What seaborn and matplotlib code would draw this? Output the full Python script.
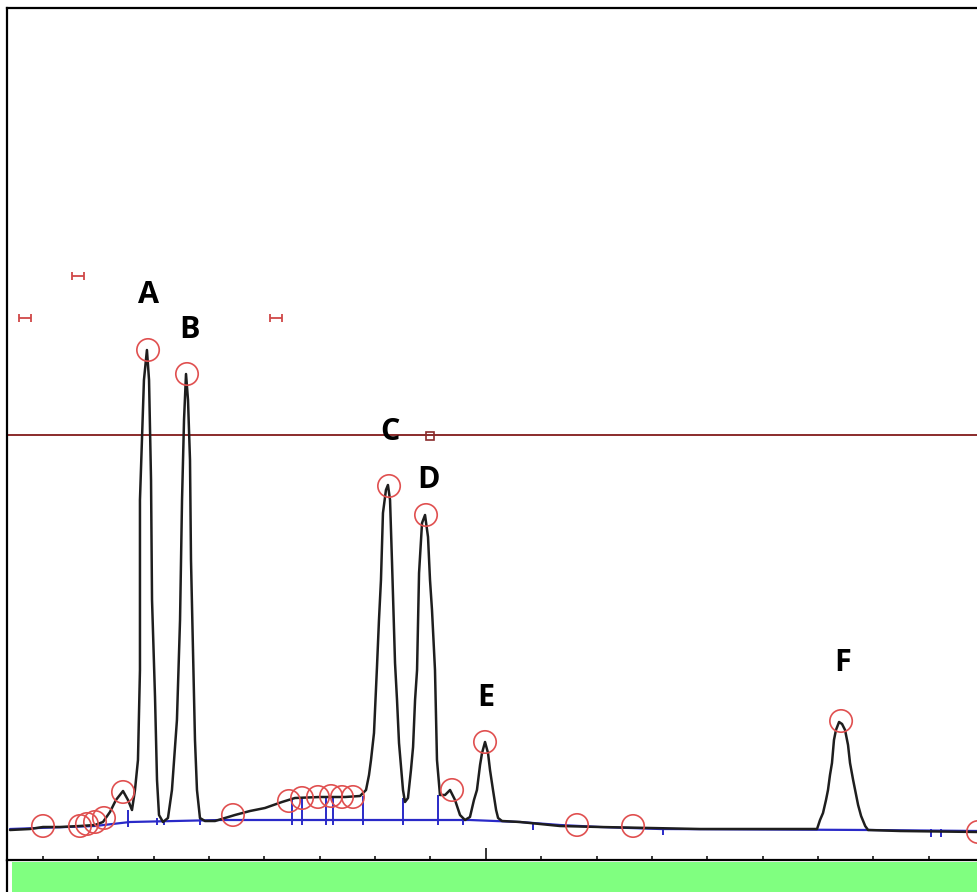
import numpy as np
import pandas as pd
import seaborn as sns
import matplotlib.pyplot as plt
from matplotlib.patches import Rectangle
from matplotlib.lines import Line2D

sns.set_theme(style="white")
plt.rcParams['font.family'] = ['Open Sans', 'DejaVu Sans']

# detector trace, time in min, signal in mV
trace_t = [0.702, 0.883, 1.000, 1.154, 1.334, 1.470, 1.542, 1.605, 1.659, 1.723,
           1.768, 1.804, 1.831, 1.858, 1.876, 1.876, 1.912, 1.939,
           1.958, 1.976, 1.985, 2.012, 2.030, 2.048, 2.084,
           2.129, 2.165, 2.210, 2.238, 2.256, 2.274, 2.292,
           2.310, 2.328, 2.337, 2.355, 2.373, 2.391, 2.418, 2.463,
           2.554, 2.644, 2.734, 2.870, 3.005, 3.159, 3.276, 3.502, 3.728, 3.864, 3.918,
           3.945, 3.963, 3.990, 4.017, 4.035, 4.053, 4.071, 4.098, 4.116,
           4.135, 4.153, 4.180, 4.198, 4.216, 4.252, 4.270,
           4.297, 4.324, 4.343, 4.361, 4.379, 4.397, 4.424, 4.451,
           4.478, 4.496, 4.514, 4.541, 4.559, 4.586, 4.632, 4.677, 4.722, 4.767, 4.812,
           4.857, 4.893, 4.920, 4.948, 4.966, 4.993, 5.020, 5.038, 5.065, 5.093, 5.111, 5.146,
           5.309, 5.490, 5.670, 6.032, 6.483, 6.935, 7.658, 7.992,
           8.019, 8.046, 8.073, 8.091, 8.109, 8.127, 8.145, 8.163, 8.191, 8.218,
           8.245, 8.272, 8.290, 8.318, 8.336, 8.363, 8.390, 8.427, 8.453, 8.742, 9.446]
trace_mv = [3.0, 3.1, 3.3, 3.3, 3.4, 3.5, 3.8, 4.8, 6.0, 6.9,
            6.0, 5.0, 7.0, 10.0, 19.0, 36.0, 48.0, 51.0,
            48.0, 38.0, 26.0, 16.3, 8.0, 4.5, 3.8,
            4.2, 7.0, 14.0, 24.0, 36.0, 44.0, 48.6,
            46.0, 40.0, 30.0, 21.0, 12.0, 7.0, 4.2, 3.9,
            3.9, 4.2, 4.5, 4.9, 5.2, 5.8, 6.2, 6.3, 6.3, 6.4, 7.0,
            8.5, 10.0, 12.7, 19.3, 24.0, 28.0, 34.7, 37.0, 37.5,
            36.0, 29.7, 19.7, 16.0, 11.7, 7.0, 5.8,
            6.2, 9.0, 11.3, 16.0, 19.0, 28.7, 33.7, 34.5,
            32.3, 28.0, 25.0, 19.0, 10.0, 6.5, 6.5, 7.0, 6.0, 4.5, 4.0,
            4.3, 6.0, 7.0, 9.5, 10.7, 11.8, 10.7, 9.0, 7.0, 5.0, 4.2, 3.9,
            3.8, 3.6, 3.4, 3.3, 3.2, 3.1, 3.1, 3.1,
            4.0, 4.7, 6.0, 7.0, 8.5, 9.7, 12.0, 13.0, 13.8, 13.6,
            13.0, 11.5, 9.7, 8.0, 7.0, 5.5, 4.4, 3.4, 3.0, 2.9, 2.8]

# integration baseline
base_t = [0.702, 1.470, 1.786, 2.599, 4.857, 5.309, 5.670, 6.032, 6.574, 8.471, 9.446]
base_mv = [3.1, 3.4, 3.8, 4.0, 4.0, 3.8, 3.5, 3.3, 3.1, 3.0, 2.9]

# peak start / end drop lines
drop_t = [1.768, 2.030, 2.093, 2.418, 3.249, 3.340, 3.556, 3.620, 3.891, 4.252,
          4.568, 4.794, 5.426, 6.601, 9.022, 9.112]
drop_hi = [5.0, 4.2, 4.0, 4.2, 6.2, 6.3, 6.3, 6.3, 6.4, 6.2, 6.5, 4.2, 3.8, 3.3, 3.1, 3.1]
drop_lo = [3.3, 3.5, 3.5, 3.5, 3.5, 3.5, 3.5, 3.5, 3.5, 3.5, 3.5, 3.5, 3.0, 2.5, 2.3, 2.3]

# detected peak apexes / markers
mark_t = [1.000, 1.334, 1.397, 1.470, 1.551, 1.723, 1.949, 2.301, 2.716, 3.222, 3.340,
          3.484, 3.602, 3.701, 3.800, 4.126, 4.460, 4.695, 4.993, 5.824, 6.330, 8.209, 9.446]
mark_mv = [3.4, 3.4, 3.6, 3.8, 4.2, 6.8, 51.0, 48.6, 4.5, 5.9, 6.2,
           6.3, 6.4, 6.3, 6.3, 37.4, 34.5, 7.0, 11.8, 3.5, 3.4, 13.9, 2.8]

# peak labels
labels = ['A', 'B', 'C', 'D', 'E', 'F']
label_t = [1.949, 2.328, 4.135, 4.478, 5.002, 8.227]
label_mv = [56.5, 53.0, 42.8, 38.0, 16.2, 19.7]

# event markers and threshold
event_t = [0.837, 1.316, 3.105]
event_mv = [54.2, 58.4, 54.2]
threshold = 42.5

tick_t = np.arange(1.0, 9.01, 0.5)

W, H = 978, 892
fig = plt.figure(figsize=(W / 100, H / 100), dpi=100)
ax = fig.add_axes([7 / W, 32 / H, 1 - 7 / W, 852 / H])

ax.axhline(threshold, color='#8a2b2b', lw=1.4, zorder=1)
ax.plot([4.496], [42.4], marker='s', ms=6, mfc='none', mec='#8a2b2b', mew=1.2, zorder=2)

df_base = pd.DataFrame({'t': base_t, 'mv': base_mv})
sns.lineplot(data=df_base, x='t', y='mv', sort=False, estimator=None,
             color='#2a2ac8', lw=1.6, ax=ax, zorder=2)
ax.vlines(drop_t, drop_lo, drop_hi, color='#2a2ac8', lw=1.4, zorder=2)

df_trace = pd.DataFrame({'t': trace_t, 'mv': trace_mv})
sns.lineplot(data=df_trace, x='t', y='mv', sort=False, estimator=None,
             color='#1e1e1e', lw=1.8, ax=ax, zorder=3)

df_mark = pd.DataFrame({'t': mark_t, 'mv': mark_mv})
sns.scatterplot(data=df_mark, x='t', y='mv', s=260, marker='o',
                facecolor='none', edgecolor='#e05050', linewidth=1.2, ax=ax, zorder=4)

ax.errorbar(event_t, event_mv, xerr=0.055, fmt='none', ecolor='#d04848',
            elinewidth=1.3, capsize=3, capthick=1.3, zorder=4)

for lab, t, v in zip(labels, label_t, label_mv):
    ax.text(t, v, lab, fontsize=22, fontweight='bold', color='black',
            ha='center', va='center', zorder=5)

ax.set_xlim(0.675, 9.446)
ax.set_ylim(0, 85.2)
ax.set_xticks([5.0])
ax.set_xticks(tick_t, minor=True)
ax.set_xticklabels([])
ax.set_yticks([])
ax.set_xlabel('')
ax.set_ylabel('')
ax.tick_params(axis='x', which='major', direction='in', length=9, width=1.1,
               color='black', bottom=True)
ax.tick_params(axis='x', which='minor', direction='in', length=3, width=1.1,
               color='black', bottom=True)
for side in ['left', 'top', 'bottom']:
    ax.spines[side].set_visible(True)
    ax.spines[side].set_color('black')
    ax.spines[side].set_linewidth(1.6)
ax.spines['right'].set_visible(False)

# green status strip and outer frame below the axes
fig.patches.append(Rectangle((12 / W, 0), 1 - 12 / W, 30 / H, transform=fig.transFigure,
                             facecolor='#80ff80', edgecolor='none'))
fig.lines.append(Line2D([7 / W, 7 / W], [0, 32 / H], transform=fig.transFigure,
                        color='black', lw=1.6))

fig.savefig('out.png', dpi=100)
